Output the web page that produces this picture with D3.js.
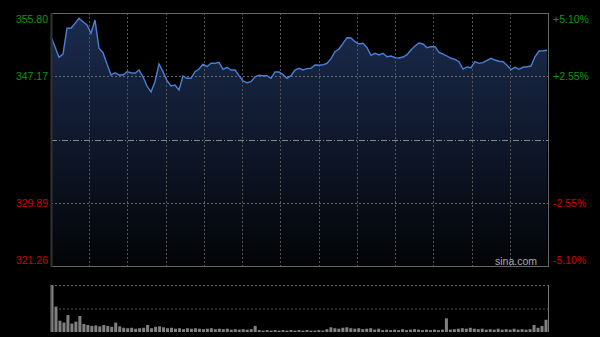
<!DOCTYPE html>
<html>
<meta charset="utf-8">
<style>
body { margin: 0; background: #000; }
svg { display: block; }
.lbl { font-family: "Liberation Sans", Arial, sans-serif; font-size: 10.5px; }
.line { fill: none; stroke: #4a7fd6; stroke-width: 1.4px; }
</style>
<body>
<script src="https://d3js.org/d3.v7.min.js"></script>
<script>

// price every ~2 minutes
var prices = [352.56, 351.20, 349.75, 350.20, 353.71, 353.71, 354.39, 355.08, 354.61, 354.16,
  353.03, 354.84, 350.98, 350.38, 348.84, 347.34, 347.65, 347.34, 347.34, 347.79,
  347.65, 347.57, 348.02, 347.10, 345.83, 345.01, 346.42, 348.84, 347.79, 346.56,
  345.83, 345.97, 345.29, 347.20, 346.89, 346.89, 347.79, 348.15, 348.80, 348.47,
  348.93, 348.93, 349.07, 348.11, 348.39, 348.02, 348.02, 347.24, 346.52, 346.28,
  346.42, 347.10, 347.29, 347.24, 347.24, 346.89, 347.75, 347.75, 347.38, 346.89,
  347.24, 348.02, 348.25, 348.02, 348.20, 348.25, 348.70, 348.66, 348.74, 348.93,
  349.56, 350.52, 350.89, 351.66, 352.43, 352.39, 351.88, 351.57, 351.66, 351.06,
  350.03, 350.30, 350.07, 350.30, 349.83, 349.93, 349.70, 349.66, 349.79, 350.11,
  350.75, 351.30, 351.70, 351.57, 351.06, 351.20, 351.20, 350.43, 350.20, 349.93,
  349.62, 349.48, 349.15, 348.15, 348.43, 348.33, 349.15, 348.93, 349.02, 349.34,
  349.62, 349.38, 349.21, 349.15, 348.66, 348.06, 348.39, 348.11, 348.39, 348.47,
  348.56, 349.83, 350.61, 350.65, 350.71];

// volume, same spacing
var volumes = [100, 54, 24, 20, 36, 18, 22, 34, 17, 15,
  13, 14, 12, 15, 13, 11, 20, 12, 9, 8,
  9, 7, 8, 9, 15, 8, 11, 12, 10, 8,
  9, 7, 8, 6, 8, 7, 8, 7, 6, 7,
  8, 6, 7, 6, 7, 5, 6, 5, 6, 5,
  6, 13, 4, 3, 4, 3, 4, 3, 4, 3,
  4, 3, 4, 3, 4, 3, 3, 4, 3, 6,
  10, 8, 7, 9, 10, 8, 7, 8, 6, 7,
  8, 5, 7, 4, 5, 4, 5, 4, 6, 4,
  5, 6, 5, 4, 5, 4, 5, 4, 5, 29,
  5, 6, 7, 8, 7, 9, 7, 6, 7, 5,
  6, 5, 7, 5, 6, 5, 7, 5, 6, 5,
  6, 15, 9, 13, 26];

var prevClose = 338.53;
var priceTicks = [355.80, 347.17, 329.89, 321.26];
var pctTicks = ["+5.10%", "+2.55%", "-2.55%", "-5.10%"];

var W = 600, H = 337;
var pLeft = 51, pRight = 548, pTop = 13, pBottom = 266;
var vTop = 285, vBottom = 332;

var svg = d3.select("body").append("svg")
    .attr("width", W)
    .attr("height", H);

svg.append("rect").attr("width", W).attr("height", H).attr("fill", "#000");

var x = d3.scaleLinear().domain([0, prices.length - 1]).range([pLeft, pRight - 1]);
var y = d3.scaleLinear().domain([321.26, 355.80]).range([pBottom, pTop]);
var xv = d3.scaleLinear().domain([0, volumes.length - 1]).range([pLeft + 1, pRight - 2]);
var yv = d3.scaleLinear().domain([0, 100]).range([vBottom, vTop]);
var grid = d3.scaleLinear().domain([0, 13]).range([pLeft, pRight]);

// gradient under the line
var defs = svg.append("defs");
var grad = defs.append("linearGradient")
    .attr("id", "fillGrad")
    .attr("gradientUnits", "userSpaceOnUse")
    .attr("x1", 0).attr("y1", pTop).attr("x2", 0).attr("y2", pBottom);
grad.append("stop").attr("offset", "0%").attr("stop-color", "#1b2c4e");
grad.append("stop").attr("offset", "55%").attr("stop-color", "#0e1628");
grad.append("stop").attr("offset", "100%").attr("stop-color", "#030406");

var area = d3.area()
    .x(function(d, i) { return x(i); })
    .y0(pBottom)
    .y1(function(d) { return y(d); });

svg.append("path")
    .datum(prices)
    .attr("fill", "url(#fillGrad)")
    .attr("d", area);

// vertical grid
svg.selectAll(".vgrid")
    .data(d3.range(1, 13))
  .enter().append("line")
    .attr("x1", function(d) { return Math.round(grid(d)) + 0.5; })
    .attr("x2", function(d) { return Math.round(grid(d)) + 0.5; })
    .attr("y1", pTop).attr("y2", pBottom)
    .attr("stroke", "#555")
    .attr("stroke-width", 1)
    .attr("stroke-dasharray", "2,2");

// horizontal grid
svg.selectAll(".hgrid")
    .data([347.17, 329.89])
  .enter().append("line")
    .attr("x1", pLeft).attr("x2", pRight)
    .attr("y1", function(d) { return Math.round(y(d)) + 0.5; })
    .attr("y2", function(d) { return Math.round(y(d)) + 0.5; })
    .attr("stroke", "#666")
    .attr("stroke-dasharray", "2,2");

svg.append("line")
    .attr("x1", pLeft).attr("x2", pRight)
    .attr("y1", Math.round(y(prevClose)) + 0.5)
    .attr("y2", Math.round(y(prevClose)) + 0.5)
    .attr("stroke", "#888")
    .attr("stroke-dasharray", "6,2,1,2");

// price line
var valueline = d3.line()
    .x(function(d, i) { return x(i); })
    .y(function(d) { return y(d); });

svg.append("path")
    .datum(prices)
    .attr("class", "line")
    .attr("d", valueline);

// frame
svg.append("line").attr("x1", pLeft).attr("x2", pRight).attr("y1", pTop + 0.5).attr("y2", pTop + 0.5).attr("stroke", "#666");
svg.append("line").attr("x1", pLeft).attr("x2", pRight).attr("y1", pBottom + 0.5).attr("y2", pBottom + 0.5).attr("stroke", "#666");
svg.append("line").attr("x1", pLeft + 0.5).attr("x2", pLeft + 0.5).attr("y1", pTop).attr("y2", pBottom + 1).attr("stroke", "#333").attr("stroke-width", 2);
svg.append("line").attr("x1", pRight + 0.5).attr("x2", pRight + 0.5).attr("y1", pTop).attr("y2", pBottom + 1).attr("stroke", "#666");

// axis labels
function labelY(d, i) {
  var v = y(d);
  if (i == 0) v += 6;
  if (i == priceTicks.length - 1) v -= 6;
  return v;
}
svg.selectAll(".lp")
    .data(priceTicks)
  .enter().append("text")
    .attr("class", "lbl")
    .attr("x", 48)
    .attr("y", labelY)
    .attr("dy", "0.36em")
    .attr("text-anchor", "end")
    .attr("fill", function(d) { return d > prevClose ? "#0a9a0a" : "#d00000"; })
    .text(function(d) { return d.toFixed(2); });

svg.selectAll(".rp")
    .data(pctTicks)
  .enter().append("text")
    .attr("class", "lbl")
    .attr("x", 553)
    .attr("y", function(d, i) { return labelY(priceTicks[i], i); })
    .attr("dy", "0.36em")
    .attr("fill", function(d) { return d[0] == "+" ? "#0a9a0a" : "#d00000"; })
    .text(function(d) { return d; });

svg.append("text")
    .attr("class", "lbl")
    .attr("x", 537)
    .attr("y", 261)
    .attr("dy", "0.36em")
    .attr("text-anchor", "end")
    .attr("fill", "#aaa")
    .text("sina.com");

// volume panel
svg.append("line").attr("x1", pLeft).attr("x2", pRight).attr("y1", vTop + 0.5).attr("y2", vTop + 0.5)
    .attr("stroke", "#666").attr("stroke-dasharray", "2,2");
svg.append("line").attr("x1", pLeft).attr("x2", pRight).attr("y1", yv(50) + 0.5).attr("y2", yv(50) + 0.5)
    .attr("stroke", "#555").attr("stroke-dasharray", "2,2");

svg.selectAll(".vol")
    .data(volumes)
  .enter().append("rect")
    .attr("x", function(d, i) { return xv(i) - 1.5; })
    .attr("width", 3)
    .attr("y", function(d) { return yv(d); })
    .attr("height", function(d) { return vBottom - yv(d); })
    .attr("fill", "#808080");

svg.append("line").attr("x1", pLeft + 0.5).attr("x2", pLeft + 0.5).attr("y1", vTop).attr("y2", vBottom).attr("stroke", "#666");
svg.append("line").attr("x1", pRight + 0.5).attr("x2", pRight + 0.5).attr("y1", vTop).attr("y2", vBottom).attr("stroke", "#777");

</script>
</body>
</html>
